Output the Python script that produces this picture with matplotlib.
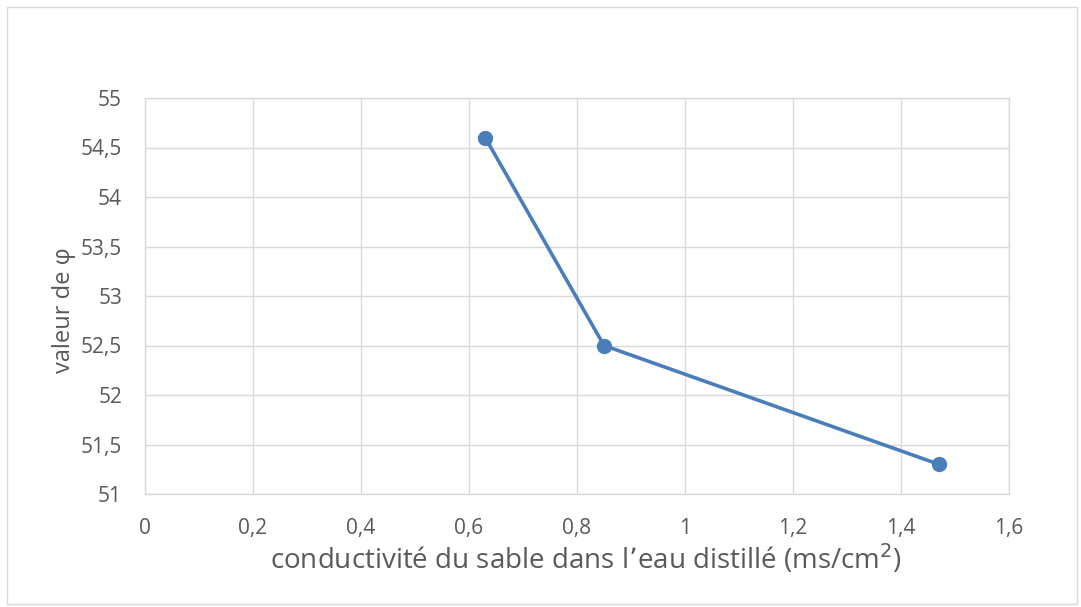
import matplotlib.pyplot as plt
from matplotlib.patches import Rectangle

# data
conductivity = [0.63, 0.85, 1.47]
phi = [54.6, 52.5, 51.3]

xticks = [0, 0.2, 0.4, 0.6, 0.8, 1.0, 1.2, 1.4, 1.6]
xtick_labels = ["0", "0,2", "0,4", "0,6", "0,8", "1", "1,2", "1,4", "1,6"]
yticks = [51, 51.5, 52, 52.5, 53, 53.5, 54, 54.5, 55]
ytick_labels = ["51", "51,5", "52", "52,5", "53", "53,5", "54", "54,5", "55"]

plt.rcParams['font.family'] = ['Open Sans', 'DejaVu Sans']

W, H = 1081, 607
fig = plt.figure(figsize=(W / 100, H / 100), dpi=100)
fig.patches.append(Rectangle((7 / W, 1 - 604 / H), 1070 / W, 597 / H,
                             transform=fig.transFigure, fill=False,
                             edgecolor='#d9d9d9', linewidth=1))

ax = fig.add_axes([145 / W, 1 - 494 / H, (1009 - 145) / W, (494 - 98) / H])
grid_c = '#d9d9d9'
text_c = '#595959'

ax.plot(conductivity, phi, color='#4a7ebb', linewidth=2.6,
        marker='o', markersize=10, zorder=3)

ax.set_xlim(0, 1.6)
ax.set_ylim(51, 55)
ax.set_xticks(xticks)
ax.set_xticklabels(xtick_labels)
ax.set_yticks(yticks)
ax.set_yticklabels(ytick_labels)
ax.grid(True, color=grid_c, linewidth=1)
ax.set_axisbelow(True)
for s in ax.spines.values():
    s.set_color(grid_c)
    s.set_linewidth(1)
ax.tick_params(length=0, labelsize=15, colors=text_c)
ax.tick_params(axis='x', pad=17)
ax.tick_params(axis='y', pad=16.5)

# axis titles placed by baseline, like the Excel original
xl = fig.text(586 / W, 1 - 569 / H,
              "conductivité du sable dans l’eau distillé (ms/cm$^2$)",
              fontsize=19, color=text_c, ha='center', va='baseline')
fig.canvas.draw()
w = xl.get_window_extent().width
xl.set_fontsize(19 * 633 / w)

fig.text(70 / W, 1 - 310 / H, "valeur de φ", fontsize=17, color=text_c,
         rotation=90, rotation_mode='anchor', ha='center', va='baseline')

fig.savefig('out.png', dpi=100)
